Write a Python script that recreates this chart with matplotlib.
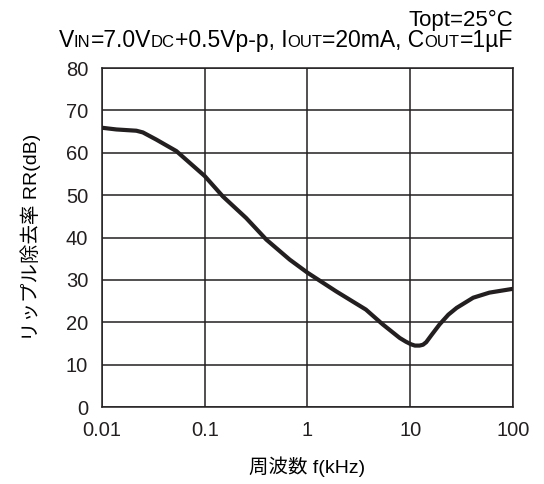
import matplotlib
matplotlib.use("Agg")
import matplotlib.pyplot as plt
import numpy as np

plt.rcParams["font.family"] = ["Liberation Sans", "Noto Sans CJK JP", "DejaVu Sans"]

# ripple rejection curve
freq_khz = [0.01, 0.0138, 0.0216, 0.025, 0.0338, 0.0529, 0.1, 0.15, 0.253, 0.398,
            0.67, 1.0, 1.9, 3.7, 5.4, 7.9, 9.1, 10.2, 11.1, 12.3, 13.3, 14.3,
            16.0, 19.3, 23.5, 28.3, 41, 59, 100]
rr_db = [65.9, 65.5, 65.2, 64.8, 63.1, 60.4, 54.5, 49.7, 44.6, 39.5,
         34.8, 31.7, 27.3, 23.0, 19.5, 16.3, 15.4, 14.8, 14.5, 14.5, 14.7, 15.3,
         16.9, 19.5, 21.8, 23.4, 25.8, 27.0, 27.9]

x_ticks = [0.01, 0.1, 1, 10, 100]
x_tick_labels = ["0.01", "0.1", "1", "10", "100"]
y_ticks = [0, 10, 20, 30, 40, 50, 60, 70, 80]

# condition line: (text, is_small) pieces
cond_pieces = [("V", False), ("IN", True), ("=7.0V", False), ("DC", True),
               ("+0.5Vp-p, I", False), ("OUT", True), ("=20mA, C", False),
               ("OUT", True), ("=1µF", False)]

fig = plt.figure(figsize=(5.44, 4.84), dpi=100)
ax = fig.add_axes([0.1875, 0.159, 0.7555, 0.7005])

ax.plot(freq_khz, rr_db, color="#231f20", lw=3.0, solid_capstyle="round",
        solid_joinstyle="round")
ax.set_xscale("log")
ax.set_xlim(0.01, 100)
ax.set_ylim(0, 80)
ax.set_xticks(x_ticks)
ax.set_xticklabels(x_tick_labels)
ax.set_yticks(y_ticks)
ax.minorticks_off()
ax.tick_params(length=0, labelsize=14.5, pad=10, colors="#231f20")
ax.grid(True, color="#231f20", lw=1.1)
for s in ax.spines.values():
    s.set_color("#231f20")
    s.set_linewidth(1.1)

ax.set_xlabel("周波数 f(kHz)", fontsize=14, labelpad=12)
ax.set_ylabel("リップル除去率 RR(dB)", fontsize=14, labelpad=18)

fig.text(0.943, 0.946, "Topt=25°C", fontsize=16, ha="right", va="baseline")

# build condition line piece by piece, then right-align it
renderer = fig.canvas.get_renderer()
x0 = 0.0
y_line = 0.903
texts = []
for txt, small in cond_pieces:
    t = fig.text(x0, y_line, txt, fontsize=12 if small else 16.5, ha="left",
                 va="baseline")
    bb = t.get_window_extent(renderer)
    texts.append(t)
    x0 += bb.width / fig.bbox.width
shift = 0.943 - x0
for t in texts:
    px, py = t.get_position()
    t.set_position((px + shift, py))

fig.savefig("out.png", dpi=100)
